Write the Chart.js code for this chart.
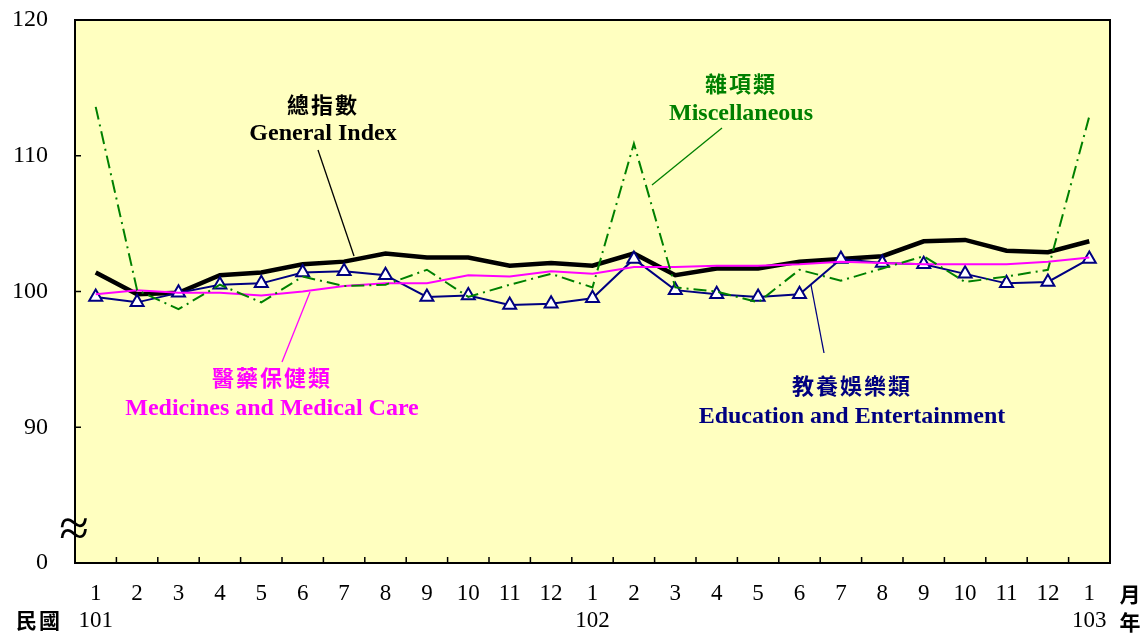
<!DOCTYPE html>
<html>
<head>
<meta charset="utf-8">
<script src="https://cdn.jsdelivr.net/npm/chart.js@4"></script>
<style>
  html, body { margin: 0; padding: 0; background: #fff; }
  #wrap { width: 1145px; height: 637px; }
</style>
</head>
<body>
<div id="wrap"><canvas id="c"></canvas></div>
<script>
const months = ["1","2","3","4","5","6","7","8","9","10","11","12","1","2","3","4","5","6","7","8","9","10","11","12","1"];
const years = ["101","","","","","","","","","","","","102","","","","","","","","","","","","103"];

const generalIndex = [101.4, 99.8, 99.9, 101.2, 101.4, 102.0, 102.2, 102.8, 102.5, 102.5, 101.9, 102.1, 101.9, 102.8, 101.2, 101.7, 101.7, 102.2, 102.4, 102.6, 103.7, 103.8, 103.0, 102.9, 103.7];
const miscellaneous = [113.6, 100.1, 98.7, 100.5, 99.2, 101.1, 100.4, 100.5, 101.6, 99.6, 100.5, 101.3, 100.3, 110.9, 100.3, 100.0, 99.2, 101.6, 100.8, 101.7, 102.6, 100.7, 101.1, 101.6, 112.9];
const medicines = [99.8, 100.1, 99.9, 99.9, 99.7, 100.0, 100.4, 100.6, 100.6, 101.2, 101.1, 101.5, 101.3, 101.8, 101.8, 101.9, 101.9, 102.0, 102.2, 102.1, 102.0, 102.0, 102.0, 102.2, 102.5];
const education = [99.6, 99.2, 99.9, 100.5, 100.6, 101.4, 101.5, 101.2, 99.6, 99.7, 99.0, 99.1, 99.5, 102.4, 100.1, 99.8, 99.6, 99.8, 102.4, 102.1, 102.0, 101.3, 100.6, 100.7, 102.4];

const yTicks = [80, 90, 100, 110, 120];

const SERIF = "'Liberation Serif', 'Times New Roman', serif";
const CJK = "'Noto Sans CJK TC', 'Noto Sans CJK SC', sans-serif";

const labels = months.map((m, i) => [m, years[i]]);

// annotation texts with leader lines (pixel layout)
const notes = [
  { zh: "總指數", en: "General Index", color: "#000000", x: 323, yZh: 105, yEn: 134, line: [318, 150, 354, 256] },
  { zh: "雜項類", en: "Miscellaneous", color: "#008000", x: 741, yZh: 84, yEn: 114, line: [722, 128, 652, 185] },
  { zh: "醫藥保健類", en: "Medicines and Medical Care", color: "#FF00FF", x: 272, yZh: 378, yEn: 409, line: [282, 362, 310, 292] },
  { zh: "教養娛樂類", en: "Education and Entertainment", color: "#000080", x: 852, yZh: 386, yEn: 417, line: [824, 353, 811, 285] }
];

const framePlugin = {
  id: "frame",
  beforeDraw(chart) {
    const { ctx, chartArea: a } = chart;
    ctx.save();
    ctx.fillStyle = "#FFFFC0";
    ctx.fillRect(a.left, a.top, a.right - a.left, a.bottom - a.top);
    ctx.restore();
  },
  afterDatasetsDraw(chart) {
    const { ctx, chartArea: a, scales } = chart;
    const x = scales.x, y = scales.y;
    ctx.save();
    ctx.strokeStyle = "#000";
    ctx.lineWidth = 2;
    ctx.strokeRect(a.left, a.top, a.right - a.left, a.bottom - a.top);
    ctx.lineWidth = 1.5;
    ctx.beginPath();
    // inward x ticks between categories
    for (let i = 0; i < months.length - 1; i++) {
      const px = (x.getPixelForValue(i) + x.getPixelForValue(i + 1)) / 2;
      ctx.moveTo(px, a.bottom);
      ctx.lineTo(px, a.bottom - 6);
    }
    // inward y ticks
    [90, 100, 110].forEach(v => {
      const py = y.getPixelForValue(v);
      ctx.moveTo(a.left, py);
      ctx.lineTo(a.left + 6, py);
    });
    ctx.stroke();

    // axis break symbol
    ctx.fillStyle = "#000";
    ctx.font = "54px " + SERIF;
    ctx.textAlign = "center";
    ctx.textBaseline = "middle";
    ctx.fillText("≈", a.left - 1, y.getPixelForValue(82.3));

    // annotations
    notes.forEach(n => {
      ctx.strokeStyle = n.color;
      ctx.lineWidth = 1.3;
      ctx.beginPath();
      ctx.moveTo(n.line[0], n.line[1]);
      ctx.lineTo(n.line[2], n.line[3]);
      ctx.stroke();
      ctx.fillStyle = n.color;
      ctx.textAlign = "center";
      ctx.textBaseline = "middle";
      ctx.font = "bold 22px " + CJK;
      ctx.letterSpacing = "2px";
      ctx.fillText(n.zh, n.x, n.yZh);
      ctx.letterSpacing = "0px";
      ctx.font = "bold 24px " + SERIF;
      ctx.fillText(n.en, n.x, n.yEn);
    });

    // corner captions
    ctx.fillStyle = "#000";
    ctx.font = "bold 21px " + CJK;
    ctx.textAlign = "center";
    ctx.letterSpacing = "2px";
    ctx.fillText("民國", 39, 620);
    ctx.fillText("月", 1131, 594);
    ctx.fillText("年", 1131, 622);
    ctx.restore();
  }
};

new Chart(document.getElementById("c"), {
  type: "line",
  data: {
    labels: labels,
    datasets: [
      {
        label: "雜項類 Miscellaneous",
        data: miscellaneous,
        borderColor: "#008000",
        borderWidth: 2,
        borderDash: [13, 5, 2, 5],
        pointRadius: 0,
        tension: 0
      },
      {
        label: "醫藥保健類 Medicines and Medical Care",
        data: medicines,
        borderColor: "#FF00FF",
        borderWidth: 2,
        pointRadius: 0,
        tension: 0
      },
      {
        label: "教養娛樂類 Education and Entertainment",
        data: education,
        borderColor: "#000080",
        borderWidth: 2,
        pointStyle: "triangle",
        pointRadius: 7.5,
        pointBackgroundColor: "#FFFFFF",
        pointBorderColor: "#000080",
        pointBorderWidth: 2,
        tension: 0
      },
      {
        label: "總指數 General Index",
        data: generalIndex,
        borderColor: "#000000",
        borderWidth: 4.5,
        pointRadius: 0,
        tension: 0
      }
    ]
  },
  options: {
    responsive: true,
    maintainAspectRatio: false,
    animation: false,
    layout: { padding: { top: 20, right: 35, left: 0, bottom: 0 } },
    plugins: {
      legend: { display: false },
      tooltip: { enabled: false }
    },
    scales: {
      x: {
        type: "category",
        offset: true,
        grid: { display: false },
        border: { display: false },
        ticks: {
          color: "#000",
          font: { family: SERIF, size: 23, lineHeight: 1.18 },
          padding: 9,
          maxRotation: 0,
          autoSkip: false
        },
        afterFit(scale) {
          scale.height = 74;
          scale.paddingLeft = 0;
          scale.paddingRight = 0;
        }
      },
      y: {
        min: 80,
        max: 120,
        afterBuildTicks(scale) { scale.ticks = yTicks.map(v => ({ value: v })); },
        grid: { display: false },
        border: { display: false },
        ticks: {
          color: "#000",
          font: { family: SERIF, size: 24 },
          padding: 19,
          callback: v => (v === 80 ? "0" : String(v))
        },
        afterFit(scale) {
          scale.width = 75;
          scale.paddingTop = 0;
          scale.paddingBottom = 0;
        }
      }
    }
  },
  plugins: [framePlugin]
});
</script>
</body>
</html>
